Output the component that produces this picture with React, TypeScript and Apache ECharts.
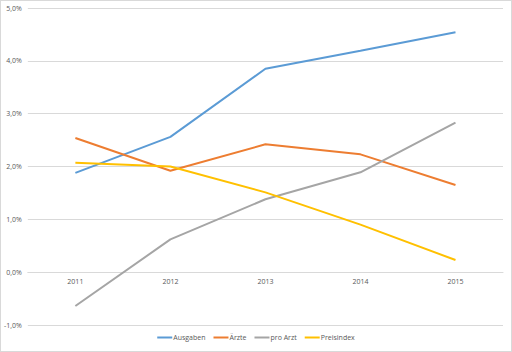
import React, { useEffect, useRef } from "react";
import * as echarts from "echarts";

const years = ["2011", "2012", "2013", "2014", "2015"];
const ausgaben = [1.88, 2.56, 3.85, 4.19, 4.54];
const aerzte = [2.54, 1.92, 2.42, 2.23, 1.65];
const proArzt = [-0.64, 0.62, 1.38, 1.89, 2.83];
const preisindex = [2.07, 2.0, 1.51, 0.9, 0.23];

const Y_MIN = -1;
const Y_MAX = 5;
const GRID_TOP = 7;
const GRID_BOTTOM = 26;
const CHART_H = 350;

export default function App() {
  const ref = useRef<HTMLDivElement>(null);
  useEffect(() => {
    if (!ref.current) return;
    const chart = echarts.init(ref.current, undefined, { renderer: "svg" });
    const font = "'Open Sans', 'Noto Sans', sans-serif";
    const plotH = CHART_H - GRID_TOP - GRID_BOTTOM;
    const zeroOffset = -((0 - Y_MIN) / (Y_MAX - Y_MIN)) * plotH;
    const mk = (name: string, data: number[], color: string) => ({
      name,
      type: "line",
      data,
      symbol: "none",
      lineStyle: { color, width: 2 },
      itemStyle: { color },
    });
    chart.setOption({
      animation: false,
      backgroundColor: "#ffffff",
      grid: { left: 26, right: 8, top: GRID_TOP, bottom: GRID_BOTTOM },
      legend: {
        bottom: 5,
        left: "center",
        icon: "rect",
        itemWidth: 15,
        itemHeight: 2,
        itemGap: 8,
        textStyle: { fontSize: 7, color: "#595959", fontFamily: font, padding: [0, 0, 0, -4] },
        data: ["Ausgaben", "Ärzte", "pro Arzt", "Preisindex"],
      },
      xAxis: {
        type: "category",
        data: years,
        boundaryGap: true,
        offset: zeroOffset,
        axisLine: { onZero: false, lineStyle: { color: "#d9d9d9", width: 1 } },
        axisTick: { show: false },
        axisLabel: { fontSize: 7, color: "#595959", fontFamily: font, margin: 6 },
      },
      yAxis: {
        type: "value",
        min: Y_MIN,
        max: Y_MAX,
        interval: 1,
        axisLine: { show: false },
        axisTick: { show: false },
        splitLine: { lineStyle: { color: "#d9d9d9", width: 1 } },
        axisLabel: {
          fontSize: 7,
          color: "#595959",
          fontFamily: font,
          margin: 6,
          formatter: (v: number) => v.toFixed(1).replace(".", ",") + "%",
        },
      },
      series: [
        mk("Ausgaben", ausgaben, "#5B9BD5"),
        mk("Ärzte", aerzte, "#ED7D31"),
        mk("pro Arzt", proArzt, "#A5A5A5"),
        mk("Preisindex", preisindex, "#FFC000"),
      ],
    });
    return () => chart.dispose();
  }, []);
  return (
    <div
      style={{
        position: "fixed",
        left: 0,
        top: 0,
        width: 512,
        height: 352,
        boxSizing: "border-box",
        border: "1px solid #d9d9d9",
        background: "#fff",
      }}
    >
      <div ref={ref} style={{ width: 510, height: CHART_H }} />
    </div>
  );
}
